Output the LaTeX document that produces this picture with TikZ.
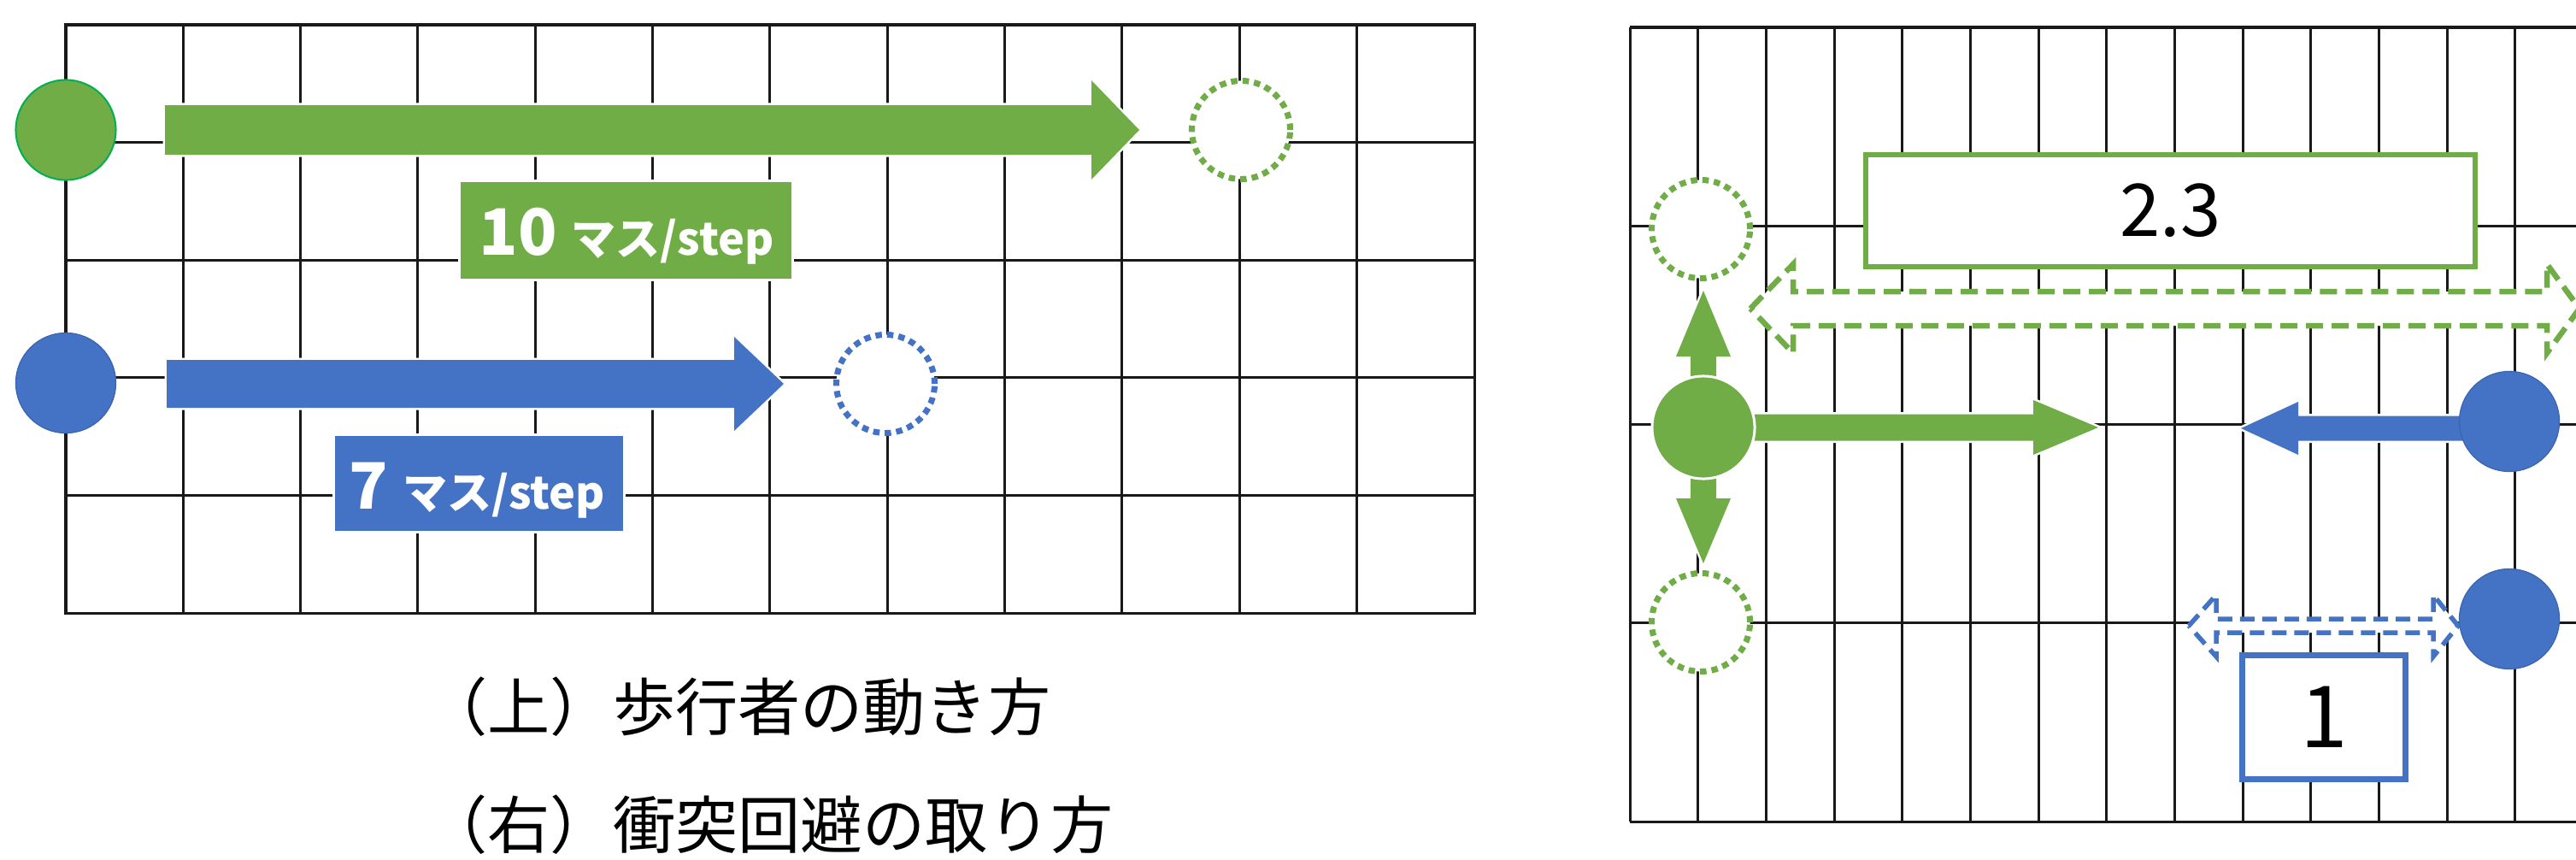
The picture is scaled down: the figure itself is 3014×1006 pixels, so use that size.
\documentclass[tikz,border=0pt]{standalone}
\usepackage{fontspec}
\newfontfamily\jp{Noto Sans CJK JP}
\definecolor{og}{HTML}{70AD47}
\definecolor{ob}{HTML}{4472C4}
\definecolor{ogline}{HTML}{00B050}
\definecolor{obline}{HTML}{3A64B0}
\tikzset{
  gridline/.style={line width=0.03cm, black!90},
  gball/.style={circle, fill=og, draw=white, line width=0.03cm, minimum size=1.2cm, inner sep=0pt},
  gballa/.style={circle, fill=og, draw=ogline, line width=0.02cm, minimum size=1.17cm, inner sep=0pt},
  bball/.style={circle, fill=ob, draw=obline, line width=0.012cm, minimum size=1.17cm, inner sep=0pt},
  gghost/.style={circle, draw=og, fill=white, line width=0.07cm, dash pattern=on 0.075cm off 0.06cm, minimum size=1.15cm, inner sep=0pt},
  bghost/.style={circle, draw=ob, fill=white, line width=0.07cm, dash pattern=on 0.075cm off 0.06cm, minimum size=1.15cm, inner sep=0pt},
  gblk/.style={fill=og, preaction={draw=white, line width=0.05cm}},
  bblk/.style={fill=ob, preaction={draw=white, line width=0.05cm}},
  lbox/.style={draw=white, line width=0.03cm, inner sep=0pt},
  lbltext/.style={anchor=base, text=white, inner sep=0pt},
  captext/.style={anchor=base west, inner sep=0pt},
}
\newcommand\blockH[7]{%
  \path[#1] (#2,{#5-#6}) -- (#3,{#5-#6}) -- (#3,{#5-#7}) -- (#4,#5) -- (#3,{#5+#7}) -- (#3,{#5+#6}) -- (#2,{#5+#6}) -- cycle;}
\newcommand\blockV[7]{%
  \path[#1] ({#5-#6},#2) -- ({#5-#6},#3) -- ({#5-#7},#3) -- (#5,#4) -- ({#5+#7},#3) -- ({#5+#6},#3) -- ({#5+#6},#2) -- cycle;}
\newcommand\dblH[8]{%
  \path[#1] (#2,#6) -- (#3,{#6-#8}) -- (#3,{#6-#7}) -- (#4,{#6-#7}) -- (#4,{#6-#8}) -- (#5,#6) -- (#4,{#6+#8}) -- (#4,{#6+#7}) -- (#3,{#6+#7}) -- (#3,{#6+#8}) -- cycle;}
\begin{document}
\begin{tikzpicture}[x=0.01cm, y=-0.01cm]
\useasboundingbox (0,0) rectangle (3014,1006);
\clip (0,0) rectangle (3014,1006);
\fill[white] (0,0) rectangle (3014,1006);

% ---------- left grid ----------
\foreach \i in {1,...,11} \draw[gridline] ({77+137.33*\i},29) -- ({77+137.33*\i},717);
\foreach \j in {1,...,4} \draw[gridline] (77,{29+137.6*\j}) -- (1725,{29+137.6*\j});
\draw[gridline] (77,29) rectangle (1725,717);

\blockH{gblk}{193}{1277}{1333}{152}{29}{58}
\blockH{bblk}{195}{859}{917}{449}{28}{55}

\node[gballa] (g0) at (77,152) {};
\node[bball] (b0) at (77,448) {};
\node[gghost] (g0n) at (1452,152) {};
\node[bghost] (b0n) at (1036,449) {};

\node[lbox, fill=og, minimum width=3.89cm, minimum height=1.15cm] (lg) at (732.5,269.5) {};
\node[lbltext] (lgt) at (733,298) {\jp\bfseries\fontsize{21.3pt}{21.3pt}\selectfont 10 {\fontsize{14.8pt}{14.8pt}\selectfont マス/step}};
\node[lbox, fill=ob, minimum width=3.39cm, minimum height=1.13cm] (lb) at (560.5,565.5) {};
\node[lbltext] (lbt) at (558,595) {\jp\bfseries\fontsize{21.3pt}{21.3pt}\selectfont 7 {\fontsize{14.8pt}{14.8pt}\selectfont マス/step}};

\node[captext] (cap1) at (497,854) {\jp\fontsize{20.8pt}{20.8pt}\selectfont （上）歩行者の動き方};
\node[captext] (cap2) at (497,992) {\jp\fontsize{20.8pt}{20.8pt}\selectfont （右）衝突回避の取り方};

% ---------- right grid ----------
\foreach \i in {1,...,13} \draw[gridline] ({1907+79.67*\i},32) -- ({1907+79.67*\i},961);
\foreach \j in {0,...,4} \draw[gridline] (1907,{32+232.25*\j}) -- (3014,{32+232.25*\j});
\draw[gridline] (1907,32) -- (1907,961);

\node[draw=og, line width=0.06cm, fill=white, minimum width=7.13cm, minimum height=1.31cm, inner sep=0pt] (v23) at (2539.5,246.5) {\jp\fontsize{24.2pt}{24.2pt}\selectfont 2.3};

\dblH{draw=og, fill=white, line width=0.065cm, dash pattern=on 0.2cm off 0.1cm}{2048}{2098}{2980}{3018}{361}{20}{52}
\dblH{draw=ob, fill=white, line width=0.055cm, dash pattern=on 0.17cm off 0.09cm}{2561}{2593}{2847}{2876}{732}{8}{36}

\node[draw=ob, line width=0.07cm, fill=white, minimum width=1.91cm, minimum height=1.45cm, inner sep=0pt] (v1) at (2719,839) {\jp\fontsize{28.5pt}{28.5pt}\selectfont 1};

\blockV{gblk}{500}{417}{340}{1993}{15}{32}
\blockV{gblk}{500}{583}{659}{1993}{15}{32}
\blockH{gblk}{1993}{2379}{2455}{500}{15.5}{32}
\blockH{bblk}{2936}{2689}{2622}{501}{14.5}{31}

\node[gball] (gm) at (1993,500) {};
\node[gghost] (gu) at (1990,268) {};
\node[gghost] (gd) at (1990,728) {};
\node[bball] (bu) at (2936,493) {};
\node[bball] (bd) at (2936,724) {};
\end{tikzpicture}
\end{document}
